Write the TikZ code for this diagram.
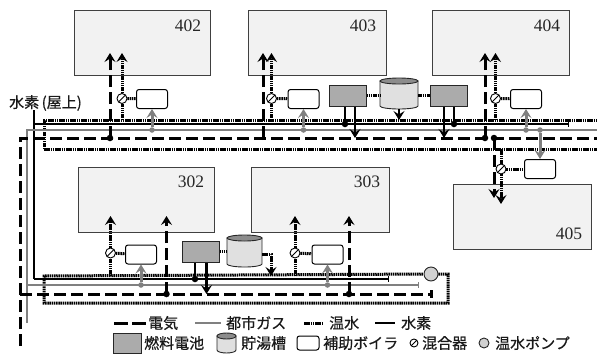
\documentclass[tikz,border=0pt]{standalone}
\usepackage{fontspec}
\setmainfont{Liberation Serif}
\newfontfamily\cjk[AutoFakeBold=0.6]{Noto Sans CJK JP}
\usepackage{xcolor}
\usetikzlibrary{shapes.geometric, arrows.meta, positioning, calc}
\newcommand{\tankbody}[3]{%
    \draw [tankline, fill=black!12] ($(#1.center)+(-#2,-#3)$) -- ($(#1.center)+(-#2,#3)$) arc[start angle=180, end angle=0, x radius=#2, y radius=3] -- ($(#1.center)+(#2,-#3)$) -- cycle;
    \draw [tankline, fill=black!45] ($(#1.center)+(0,-#3)$) ellipse [x radius=#2, y radius=3];
}

\begin{document}
\begin{tikzpicture}[x=1pt, y=-1pt, >={Stealth[length=9pt,width=11pt,inset=3.5pt]}]
    \useasboundingbox (0,0) rectangle (597,354);

    % Styles
    \tikzstyle{room} = [rectangle, draw=black!75, line width=0.9pt, fill=black!5, anchor=north west, inner sep=0pt]
    \tikzstyle{roomno} = [inner sep=0pt, font=\fontsize{17.5}{18}\selectfont, text=black!85]
    \tikzstyle{boiler} = [rectangle, draw, line width=1pt, fill=white, rounded corners=2.5pt, minimum width=31pt, minimum height=19pt, inner sep=0pt]
    \tikzstyle{fcell} = [rectangle, draw=black!85, line width=1pt, fill=black!33, minimum width=37pt, minimum height=21pt, inner sep=0pt]
    \tikzstyle{tank} = [rectangle, minimum width=38pt, minimum height=25pt, inner sep=0pt, outer ysep=3pt]
    \tikzstyle{tankline} = [draw=black!85, line width=0.9pt]
    \tikzstyle{mixer} = [circle, draw, line width=0.9pt, fill=white, minimum size=10pt, inner sep=0pt, path picture={\draw [line width=0.9pt] (path picture bounding box.south west) -- (path picture bounding box.north east);}]
    \tikzstyle{pump} = [circle, draw=black!85, line width=0.9pt, fill=black!18, minimum size=14pt, inner sep=0pt]
    \tikzstyle{jdot} = [circle, fill=black, minimum size=6.5pt, inner sep=0pt]
    \tikzstyle{gdot} = [circle, fill=black!50, minimum size=5.5pt, inner sep=0pt]
    \tikzstyle{elec} = [draw, line width=3pt, dash pattern=on 12pt off 5pt]
    \tikzstyle{gas} = [draw, black!50, line width=1.3pt]
    \tikzstyle{hotw} = [draw, line width=3pt, dash pattern=on 1.5pt off 0.7pt]
    \tikzstyle{hydro} = [draw, line width=1.5pt]
    \tikzstyle{power} = [draw, line width=2.2pt]
    \tikzstyle{boost} = [draw, black!50, line width=3pt, ->]
    \tikzstyle{jp} = [inner sep=0pt, font=\cjk\bfseries\fontsize{15}{16}\selectfont, text=black!90]

    % Rooms
    \node [room, minimum width=136pt, minimum height=65pt] (r402) at (74,10) {};
    \node [room, minimum width=138pt, minimum height=65pt] (r403) at (248,10) {};
    \node [room, minimum width=137pt, minimum height=65pt] (r404) at (432,10) {};
    \node [room, minimum width=136pt, minimum height=65pt] (r302) at (77.5,167) {};
    \node [room, minimum width=138pt, minimum height=65pt] (r303) at (251,167) {};
    \node [room, minimum width=138pt, minimum height=65pt] (r405) at (453,184) {};
    \node [roomno] (n402) at (188,26) {402};
    \node [roomno] (n403) at (363,26) {403};
    \node [roomno] (n404) at (547,26) {404};
    \node [roomno] (n302) at (191,182) {302};
    \node [roomno] (n303) at (367,182) {303};
    \node [roomno] (n405) at (569,234) {405};

    % Equipment
    \node [boiler] (b402) at (152,99) {};
    \node [boiler] (b403) at (303.5,99) {};
    \node [boiler] (b404) at (526,99) {};
    \node [boiler] (b405) at (540,169) {};
    \node [boiler] (b302) at (141,254.5) {};
    \node [boiler] (b303) at (327.5,254.5) {};
    \node [mixer] (m402) at (122,98.5) {};
    \node [mixer] (m403) at (271.5,98.5) {};
    \node [mixer] (m404) at (495.5,98.5) {};
    \node [mixer] (m405) at (501,169) {};
    \node [mixer] (m302) at (110.5,253) {};
    \node [mixer] (m303) at (295,253) {};
    \node [fcell] (fc1) at (347.5,95.5) {};
    \node [fcell] (fc2) at (448.5,95.5) {};
    \node [fcell] (fc3) at (200.5,251.5) {};
    \node [tank] (t1) at (399,93.5) {};
    \node [tank, minimum width=35pt, minimum height=26pt] (t2) at (244.5,251) {};
    \tankbody{t1}{19}{12.5}
    \tankbody{t2}{17.5}{13}
    \node [pump] (pump) at (431,274) {};

    % Main lines
    \coordinate (hotA) at (44,120);
    \coordinate (hotB) at (597,120);
    \coordinate (hotC) at (44,149);
    \coordinate (hotD) at (597,149);
    \coordinate (hotE) at (44,276);
    \coordinate (hotF) at (448,276);
    \coordinate (hotG) at (448,303);
    \coordinate (hotH) at (44,303);
    \coordinate (hyA) at (34,110);
    \coordinate (hyB) at (34,124);
    \coordinate (hyC) at (569,124);
    \coordinate (hyD) at (34,279);
    \coordinate (hyE) at (389,279);
    \coordinate (gaA) at (27,130);
    \coordinate (gaB) at (597,130);
    \coordinate (gaC) at (27,323);
    \coordinate (gaD) at (27,285);
    \coordinate (gaE) at (419,285);
    \coordinate (elA) at (20,138);
    \coordinate (elB) at (597,138);
    \coordinate (elC) at (20,346);
    \coordinate (elD) at (20,294);
    \coordinate (elE) at (433,294);
    \draw [hotw] (hotC) -- (hotA) -- (hotB);
    \draw [hotw] (hotC) -- (hotD);
    \draw [hotw] (pump) -- (pump -| hotF) -- (hotG) -- (hotH) -- (hotE) -- (pump);
    \draw [hydro] (hyA) -- (hyD);
    \draw [hydro, -{Bar[width=6pt]}] (hyB) -- (hyC);
    \draw [hydro, -{Bar[width=6pt]}] (hyD) -- (hyE);
    \draw [gas] (gaC) -- (gaA) -- (gaB);
    \draw [gas, -{Bar[width=6pt]}] (gaD) -- (gaE);
    \draw [elec] (elC) -- (elA) -- (elB);
    \draw [elec, -{Bar[width=8pt]}] (elD) -- (elE);

    % Floor 4 and 405
    \coordinate (e402) at (110,53);
    \coordinate (h402) at (122,53);
    \coordinate (e403) at (263,53);
    \coordinate (h403) at (271.5,53);
    \coordinate (e404) at (485,53);
    \coordinate (h404) at (495.5,53);
    \coordinate (e405) at (494,198);
    \coordinate (h405) at (501,204);
    \draw [elec, ->] (e402 |- elA) -- (e402);
    \draw [elec, ->] (e403 |- elA) -- (e403);
    \draw [elec, ->] (e404 |- elA) -- (e404);
    \draw [elec, ->] (e405 |- elA) -- (e405);
    \draw [hotw] (h402 |- hotA) -- (m402);
    \draw [hotw, ->] (m402) -- (h402);
    \draw [hotw] (h403 |- hotA) -- (m403);
    \draw [hotw, ->] (m403) -- (h403);
    \draw [hotw] (h404 |- hotA) -- (m404);
    \draw [hotw, ->] (m404) -- (h404);
    \draw [hotw] (h405 |- hotC) -- (m405);
    \draw [hotw, ->] (m405) -- (h405);
    \draw [hotw] (m402) -- (b402);
    \draw [hotw] (m403) -- (b403);
    \draw [hotw] (m404) -- (b404);
    \draw [hotw] (m405) -- (b405);
    \node [jdot] (d402) at (e402 |- elA) {};
    \node [jdot] (d404) at (e404 |- elA) {};
    \node [jdot] (d405) at (e405 |- elA) {};
    \node [gdot] (g402) at (b402 |- gaA) {};
    \node [gdot] (g403) at (b403 |- gaA) {};
    \node [gdot] (g404) at (b404 |- gaA) {};
    \node [gdot] (g405) at (b405 |- gaA) {};
    \draw [boost] (g402) -- (b402);
    \draw [boost] (g403) -- (b403);
    \draw [boost] (g404) -- (b404);
    \draw [boost] (g405) -- (b405);

    % Fuel cells on floor 4
    \coordinate (p1) at (345,124);
    \coordinate (q1) at (355,138);
    \coordinate (p2) at (454,124);
    \coordinate (q2) at (444,138);
    \coordinate (r1) at (399,120);
    \node [jdot] (dp1) at (p1) {};
    \node [jdot] (dp2) at (p2) {};
    \draw [hydro, line width=1.8pt] (dp1) -- (p1 |- fc1.south);
    \draw [hydro, line width=1.8pt] (dp2) -- (p2 |- fc2.south);
    \draw [power, ->] (q1 |- fc1.south) -- (q1);
    \draw [power, ->] (q2 |- fc2.south) -- (q2);
    \draw [power, ->] (t1.south) -- (r1);
    \draw [hotw] (fc1.east) -- (fc1.east -| t1.west);
    \draw [hotw] (fc2.west -| t1.east) -- (fc2.west);

    % Floor 3
    \coordinate (h302) at (110.5,216);
    \coordinate (e302) at (166.5,216);
    \coordinate (h303) at (295,216);
    \coordinate (e303) at (349,216);
    \draw [elec, ->] (e302 |- elD) -- (e302);
    \draw [elec, ->] (e303 |- elD) -- (e303);
    \draw [hotw] (h302 |- hotE) -- (m302);
    \draw [hotw, ->] (m302) -- (h302);
    \draw [hotw] (h303 |- hotE) -- (m303);
    \draw [hotw, ->] (m303) -- (h303);
    \draw [hotw] (m302) -- (b302);
    \draw [hotw] (m303) -- (b303);
    \node [jdot] (d302) at (e302 |- elD) {};
    \node [jdot] (d303) at (e303 |- elD) {};
    \node [gdot] (g302) at (b302 |- gaD) {};
    \node [gdot] (g303) at (b303 |- gaD) {};
    \draw [boost] (g302) -- (b302);
    \draw [boost] (g303) -- (b303);
    \coordinate (p3) at (195,279);
    \coordinate (q3) at (206.5,294);
    \coordinate (s3) at (271,276);
    \coordinate (s2) at (262,254);
    \node [jdot] (dp3) at (p3) {};
    \draw [hydro, line width=1.8pt] (dp3) -- (p3 |- fc3.south);
    \draw [power, ->] (q3 |- fc3.south) -- (q3);
    \draw [hotw] (fc3.east) -- (fc3.east -| t2.west);
    \draw [hotw, ->] (s2) -| (s3);

    % Labels
    \node [jp] (hylabel) at (45.5,103) {水素\,(屋上)};
    \node [jp, anchor=west] (t1a) at (148,323) {電気};
    \node [jp, anchor=west] (t2a) at (226,323) {都市ガス};
    \node [jp, anchor=west] (t3a) at (329,323) {温水};
    \node [jp, anchor=west] (t4a) at (401,323) {水素};
    \coordinate (la) at (114,323);
    \coordinate (lb) at (195,323);
    \coordinate (lc) at (304,323);
    \coordinate (ld) at (375,323);
    \draw [elec, dash pattern=on 14pt off 4pt] (la) -- (t1a);
    \draw [gas] (lb) -- ($(t2a.west)+(-5,0)$);
    \draw [hotw] (lc) -- ($(t3a.west)+(-6,0)$);
    \draw [hydro, line width=1.8pt] (ld) -- ($(t4a.west)+(-6,0)$);
    \node [fcell, minimum width=28pt, minimum height=20pt] (lfc) at (127,343) {};
    \node [jp, anchor=west] (t5a) at (144,343) {燃料電池};
    \node [tank, minimum width=19pt, minimum height=14pt] (ltank) at (226.5,343) {};
    \tankbody{ltank}{9.5}{7}
    \node [jp, anchor=west] (t6a) at (241,343) {貯湯槽};
    \node [boiler, minimum width=22pt, minimum height=14pt] (lboiler) at (308,343) {};
    \node [jp, anchor=west] (t7a) at (323,343) {補助ボイラ};
    \node [mixer, minimum size=8pt] (lmix) at (414,343) {};
    \node [jp, anchor=west] (t8a) at (422,343) {混合器};
    \node [pump, minimum size=10pt] (lpump) at (484,343) {};
    \node [jp, anchor=west] (t9a) at (495,343) {温水ポンプ};
\end{tikzpicture}
\end{document}
